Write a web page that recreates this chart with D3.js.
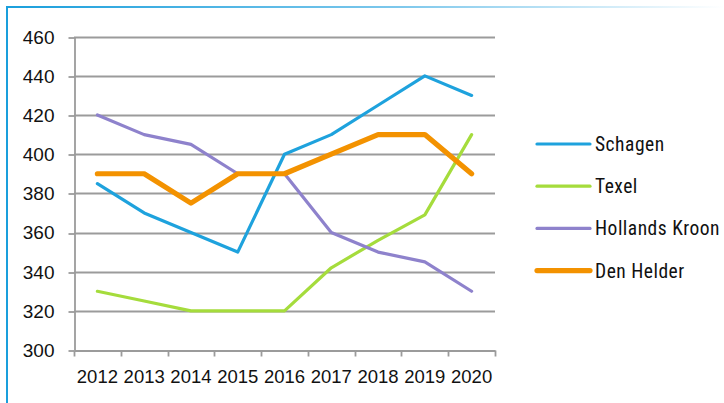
<!DOCTYPE html>
<html>
<head>
<meta charset="utf-8">
<script src="https://cdn.jsdelivr.net/npm/d3@7"></script>
<style>
  html, body { margin: 0; padding: 0; background: #fff; }
  svg { display: block; }
  text { font-family: "Liberation Sans Narrow", "Arial Narrow", "Roboto Condensed", sans-serif; fill: #111; }
</style>
</head>
<body>
<svg id="chart" width="724" height="403"></svg>
<script>
const years = ["2012", "2013", "2014", "2015", "2016", "2017", "2018", "2019", "2020"];
const schagen = [385, 370, 360, 350, 400, 410, 425, 440, 430];
const texel = [330, 325, 320, 320, 320, 342, 356, 369, 410];
const hollandsKroon = [420, 410, 405, 390, 390, 360, 350, 345, 330];
const denHelder = [390, 390, 375, 390, 390, 400, 410, 410, 390];
const yTicks = [300, 320, 340, 360, 380, 400, 420, 440, 460];

const series = [
  { name: "Schagen", values: schagen, color: "#1ea2dd", width: 3.2 },
  { name: "Texel", values: texel, color: "#a5dc3c", width: 3.2 },
  { name: "Hollands Kroon", values: hollandsKroon, color: "#8e82cc", width: 3.2 },
  { name: "Den Helder", values: denHelder, color: "#f39200", width: 5.2 }
];

const FONT = "'Liberation Sans Narrow', 'Arial Narrow', sans-serif";
const svg = d3.select("#chart");

// Frame: solid blue left edge, top edge fading out to the right
const defs = svg.append("defs");
const grad = defs.append("linearGradient").attr("id", "topFade").attr("x1", "0").attr("x2", "1");
grad.append("stop").attr("offset", "0").attr("stop-color", "#1a9fdc");
grad.append("stop").attr("offset", "0.55").attr("stop-color", "#7ec8ec");
grad.append("stop").attr("offset", "1").attr("stop-color", "#ffffff");
svg.append("rect").attr("x", 6).attr("y", 6).attr("width", 718).attr("height", 2).attr("fill", "url(#topFade)");
svg.append("rect").attr("x", 6).attr("y", 6).attr("width", 2).attr("height", 397).attr("fill", "#1a9fdc");

const x = d3.scaleBand().domain(years).range([74, 495]);
const y = d3.scaleLinear().domain([300, 460]).range([350, 36.7]);

const g = svg.append("g");

// Horizontal gridlines
g.selectAll("line.grid").data(yTicks.filter(t => t !== 300)).join("line")
  .attr("class", "grid")
  .attr("x1", 74).attr("x2", 495)
  .attr("y1", d => Math.round(y(d)) + 0.5).attr("y2", d => Math.round(y(d)) + 0.5)
  .attr("stroke", "#9b9b9b").attr("stroke-width", 1.8);

// Y axis
const yAxis = d3.axisLeft(y).tickValues(yTicks).tickSize(6).tickPadding(14).tickSizeOuter(0);
const ya = g.append("g").attr("transform", "translate(74.5,0)").call(yAxis);
ya.selectAll("line").attr("stroke", "#9b9b9b").attr("stroke-width", 1.8).attr("transform", d => `translate(0,${Math.round(y(d)) + 0.5 - y(d)})`);
ya.select(".domain").attr("stroke", "#9b9b9b").attr("stroke-width", 1.8);
ya.selectAll("text").attr("font-size", 19).attr("dy", "0.34em").style("font-family", FONT).attr("fill", "#111");

// X axis
const xAxis = d3.axisBottom(x).tickSize(0).tickPadding(19);
const xa = g.append("g").attr("transform", "translate(0,350.5)").call(xAxis);
xa.select(".domain").attr("stroke", "#9b9b9b").attr("stroke-width", 1.8);
xa.selectAll("text").attr("font-size", 18.5).style("font-family", FONT).attr("fill", "#111");
// Boundary ticks between categories
const bounds = years.map(d => x(d)).concat([x.range()[1]]);
xa.selectAll("line.bound").data(bounds).join("line")
  .attr("class", "bound")
  .attr("x1", d => Math.round(d) + 0.5).attr("x2", d => Math.round(d) + 0.5)
  .attr("y1", 0).attr("y2", 6)
  .attr("stroke", "#9b9b9b").attr("stroke-width", 1.8);

// Series lines
const line = d3.line()
  .x((d, i) => x(years[i]) + x.bandwidth() / 2)
  .y(d => y(d));

g.selectAll("path.series").data(series).join("path")
  .attr("class", "series")
  .attr("d", d => line(d.values))
  .attr("fill", "none")
  .attr("stroke", d => d.color)
  .attr("stroke-width", d => d.width)
  .attr("stroke-linejoin", "round")
  .attr("stroke-linecap", "round");

// Legend
const legend = svg.append("g").selectAll("g").data(series).join("g")
  .attr("transform", (d, i) => `translate(537,${144 + i * 42.2})`);
legend.append("line")
  .attr("x1", 0).attr("x2", 53).attr("y1", 0).attr("y2", 0)
  .attr("stroke", d => d.color).attr("stroke-width", d => d.width)
  .attr("stroke-linecap", "round");
legend.append("text")
  .attr("x", 58).attr("y", 0).attr("dy", "0.36em")
  .attr("font-size", 19.5)
  .attr("letter-spacing", 0.5)
  .text(d => d.name);
</script>
</body>
</html>
